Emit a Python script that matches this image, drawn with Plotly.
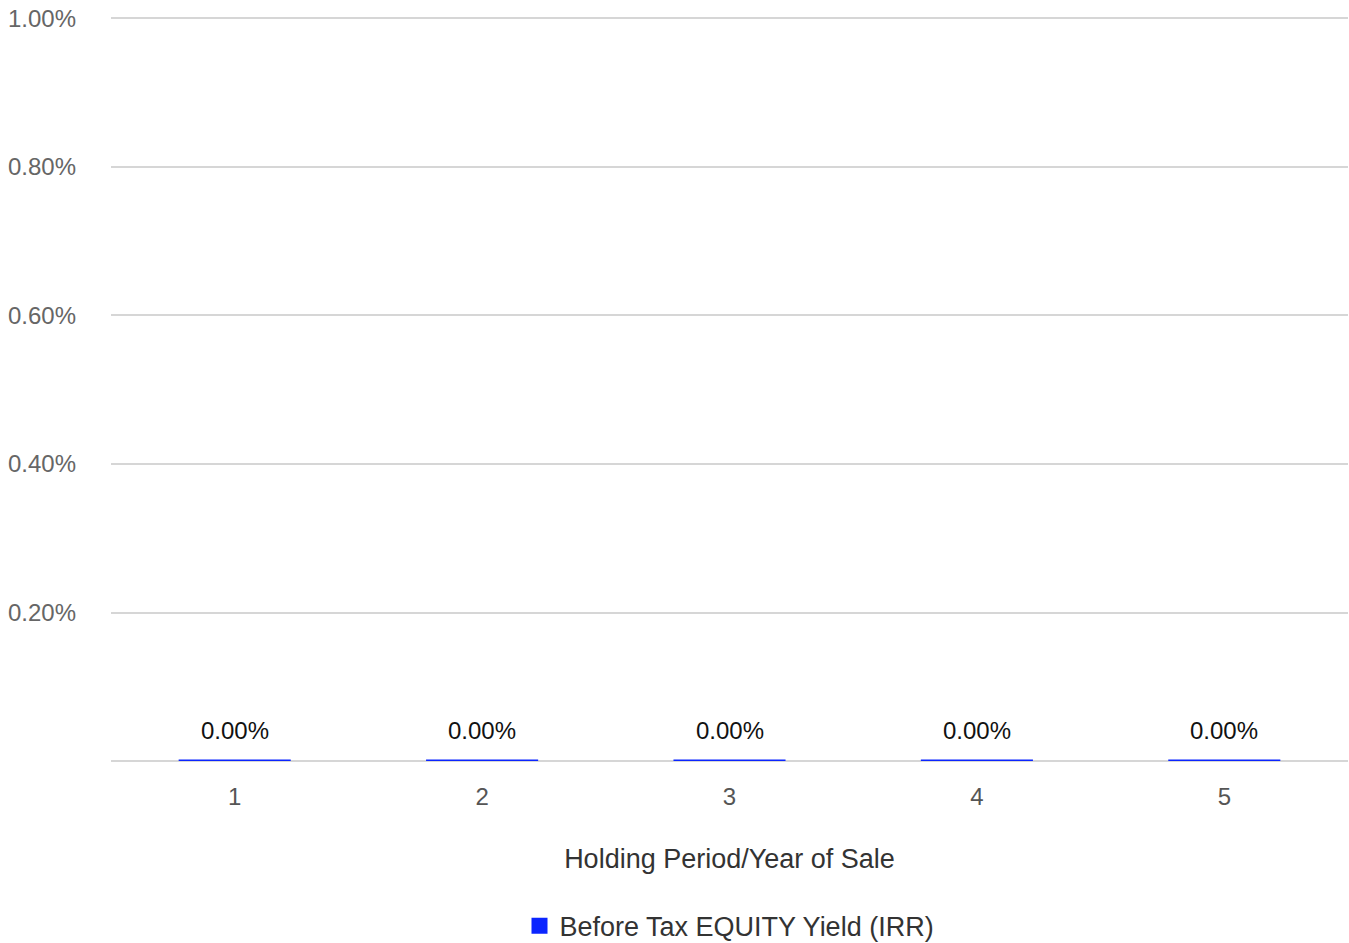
import plotly.graph_objects as go

years = ["1", "2", "3", "4", "5"]
irr_values = [0.0, 0.0, 0.0, 0.0, 0.0]
y_ticks = [0.002, 0.004, 0.006, 0.008, 0.010]
series_name = "Before Tax EQUITY Yield (IRR)"

BLUE = "#0b25ff"
FONT = "Liberation Sans, Arial, sans-serif"
LINE_T = 0.00004  # visual thickness of the bar strip (data units)

fig = go.Figure()
fig.add_trace(go.Bar(
    x=years,
    y=[v + LINE_T for v in irr_values],
    base=[-LINE_T / 2 for _ in irr_values],
    marker=dict(color=BLUE, line=dict(width=0)),
    showlegend=False,
    hoverinfo="skip",
))
# legend entry
fig.add_trace(go.Scatter(
    x=[years[0]], y=[None], mode="markers", name=series_name,
    marker=dict(symbol="square", size=20, color=BLUE),
    hoverinfo="skip",
))
# value labels (category axis: positions given as category index)
for i, v in enumerate(irr_values):
    fig.add_annotation(x=i, y=v, xref="x", yref="y", text=f"{v*100:.2f}%",
                       showarrow=False, yanchor="bottom", yshift=15,
                       font=dict(family=FONT, size=24, color="#111111"))

fig.update_layout(
    width=1349, height=943,
    margin=dict(l=111, r=1, t=17, b=182, autoexpand=False),
    paper_bgcolor="white", plot_bgcolor="white",
    font=dict(family=FONT, size=24, color="#444444"),
    bargap=0.547,
    showlegend=True,
    legend=dict(orientation="h", x=0.5, xanchor="center", xref="paper",
                y=-0.222, yanchor="middle", itemsizing="trace",
                font=dict(family=FONT, size=27, color="#333333")),
    xaxis=dict(
        type="category", categoryorder="array", categoryarray=years,
        range=[-0.5, len(years) - 0.5],
        title=dict(text="Holding Period/Year of Sale", standoff=40,
                   font=dict(family=FONT, size=27, color="#333333")),
        showgrid=False, zeroline=False, showline=False, ticks="",
        tickfont=dict(family=FONT, size=24, color="#555555"),
        ticklabelstandoff=19,
    ),
    yaxis=dict(
        range=[0, 0.01002], tickvals=y_ticks, tickformat=".2%",
        showgrid=True, gridcolor="#d6d6d6", gridwidth=2,
        zeroline=True, zerolinecolor="#d6d6d6", zerolinewidth=2,
        showline=False, ticks="",
        tickfont=dict(family=FONT, size=24, color="#666666"),
        ticklabelstandoff=34,
    ),
)
fig.write_html("out.html")
